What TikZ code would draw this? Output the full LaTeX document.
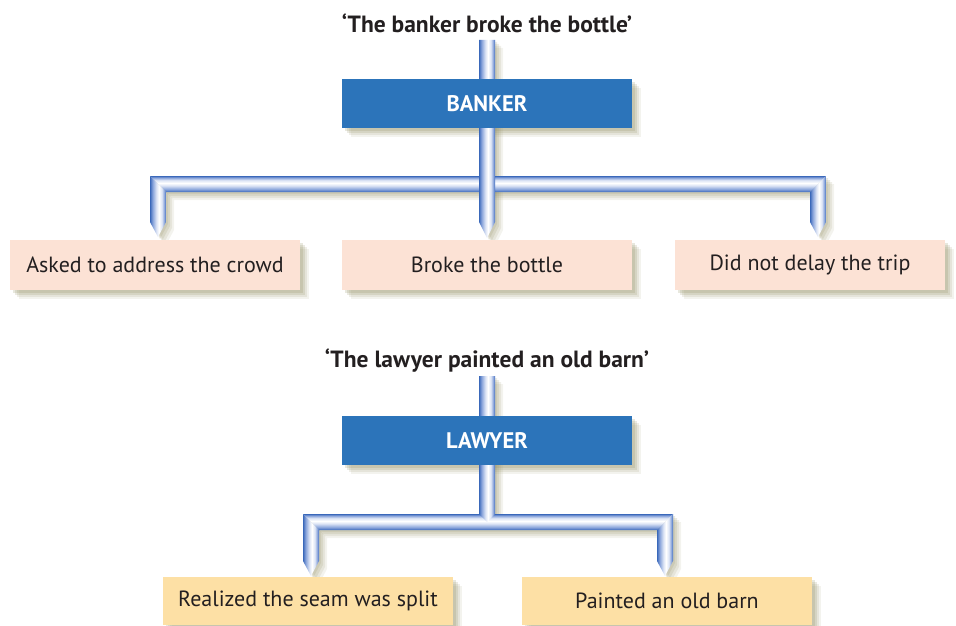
\documentclass[tikz,border=0pt]{standalone}
\usepackage{fontspec}
\setmainfont{PT Sans}
\definecolor{boxblue}{HTML}{2C74BA}
\definecolor{pinkc}{HTML}{FCE2D5}
\definecolor{yellowc}{HTML}{FDE0A5}
\definecolor{txt}{HTML}{231F20}
\definecolor{shadowc}{HTML}{8E8A5C}
\definecolor{pipeD}{HTML}{3A68BA}
\definecolor{pipeM}{HTML}{86A2DA}
\definecolor{pipeL}{HTML}{DCE4F5}
\pgfdeclarehorizontalshading{pipev}{100bp}{color(0bp)=(pipeD); color(25bp)=(pipeD); color(33bp)=(pipeM); color(45bp)=(pipeL); color(53bp)=(white); color(62bp)=(pipeL); color(70bp)=(pipeM); color(75bp)=(pipeD); color(100bp)=(pipeD)}
\pgfdeclareverticalshading{pipeh}{100bp}{color(0bp)=(pipeD); color(25bp)=(pipeD); color(33bp)=(pipeM); color(45bp)=(pipeL); color(53bp)=(white); color(62bp)=(pipeL); color(70bp)=(pipeM); color(75bp)=(pipeD); color(100bp)=(pipeD)}
\pgfdeclarelayer{bg}
\pgfdeclarelayer{mid}
\pgfsetlayers{bg,mid,main}
\newcommand\toppipes[2]{%
  \path[#1] (150,176) -- (826,176) -- (810,192) -- (166,192) -- cycle;
  \path[#2] (479,40) -- (495,40) -- (495,222) -- (487,238) -- (479,222) -- cycle;
  \path[#2] (150,176) -- (166,192) -- (166,222) -- (158,237) -- (150,222) -- cycle;
  \path[#2] (826,176) -- (826,222) -- (818,237) -- (810,222) -- (810,192) -- cycle;}
\newcommand\botpipes[2]{%
  \path[#1] (303,514) -- (673,514) -- (657,530) -- (319,530) -- cycle;
  \path[#2] (479,376) -- (495,376) -- (495,514) -- (487,522) -- (479,514) -- cycle;
  \path[#2] (303,514) -- (319,530) -- (319,561) -- (311,576) -- (303,561) -- cycle;
  \path[#2] (673,514) -- (673,561) -- (665,576) -- (657,561) -- (657,530) -- cycle;}
\begin{document}
\begin{tikzpicture}[x=1pt,y=-1pt,
  titletext/.style={font=\fontsize{23.5}{28}\selectfont\bfseries, text=txt},
  catbox/.style={fill=boxblue, text=white, font=\fontsize{22.5}{26}\selectfont\bfseries, minimum width=290pt, minimum height=49pt, inner sep=0pt},
  leafbox/.style={text=txt, font=\fontsize{22}{26}\selectfont, minimum height=50pt, inner sep=0pt},
  pinkbox/.style={leafbox, fill=pinkc},
  yellowbox/.style={leafbox, fill=yellowc, minimum height=48pt},
  shadowpiece/.style={fill=shadowc, opacity=#1}]
\useasboundingbox (0,0) rectangle (956,626);
% top diagram
\node[titletext] (title1) at (487,23) {‘The banker broke the bottle’};
\node[catbox] (banker) at (487,103.5) {BANKER};
\node[pinkbox, minimum width=290pt] (a1) at (155,265) {Asked to address the crowd};
\node[pinkbox, minimum width=290pt] (a2) at (487,265) {Broke the bottle};
\node[pinkbox, minimum width=270pt] (a3) at (810,265) {Did not delay the trip};
% bottom diagram
\node[titletext] (title2) at (487,361) {‘The lawyer painted an old barn’};
\node[catbox] (lawyer) at (487,440.5) {LAWYER};
\node[yellowbox, minimum width=290pt] (b1) at (308,601) {Realized the seam was split};
\node[yellowbox, minimum width=290pt] (b2) at (667,601) {Painted an old barn};
% box shadows
\begin{pgfonlayer}{bg}
\foreach \n in {banker,a1,a2,a3,lawyer,b1,b2}{
  \foreach \s/\o in {9/0.10,7/0.14,5/0.18,3/0.2}{
    \fill[shadowpiece=\o] ([shift={(\s,\s)}]\n.north west) rectangle ([shift={(\s,\s)}]\n.south east);
  }
}
\end{pgfonlayer}
% pipes
\begin{pgfonlayer}{mid}
\foreach \s/\o in {8/0.10,6/0.13,4/0.16,2/0.16}{
  \toppipes{shadowpiece=\o, shift={(\s,\s)}}{shadowpiece=\o, shift={(\s,\s)}}
  \botpipes{shadowpiece=\o, shift={(\s,\s)}}{shadowpiece=\o, shift={(\s,\s)}}
}
\toppipes{shade, shading=pipeh}{shade, shading=pipev}
\botpipes{shade, shading=pipeh}{shade, shading=pipev}
\end{pgfonlayer}
\end{tikzpicture}
\end{document}
